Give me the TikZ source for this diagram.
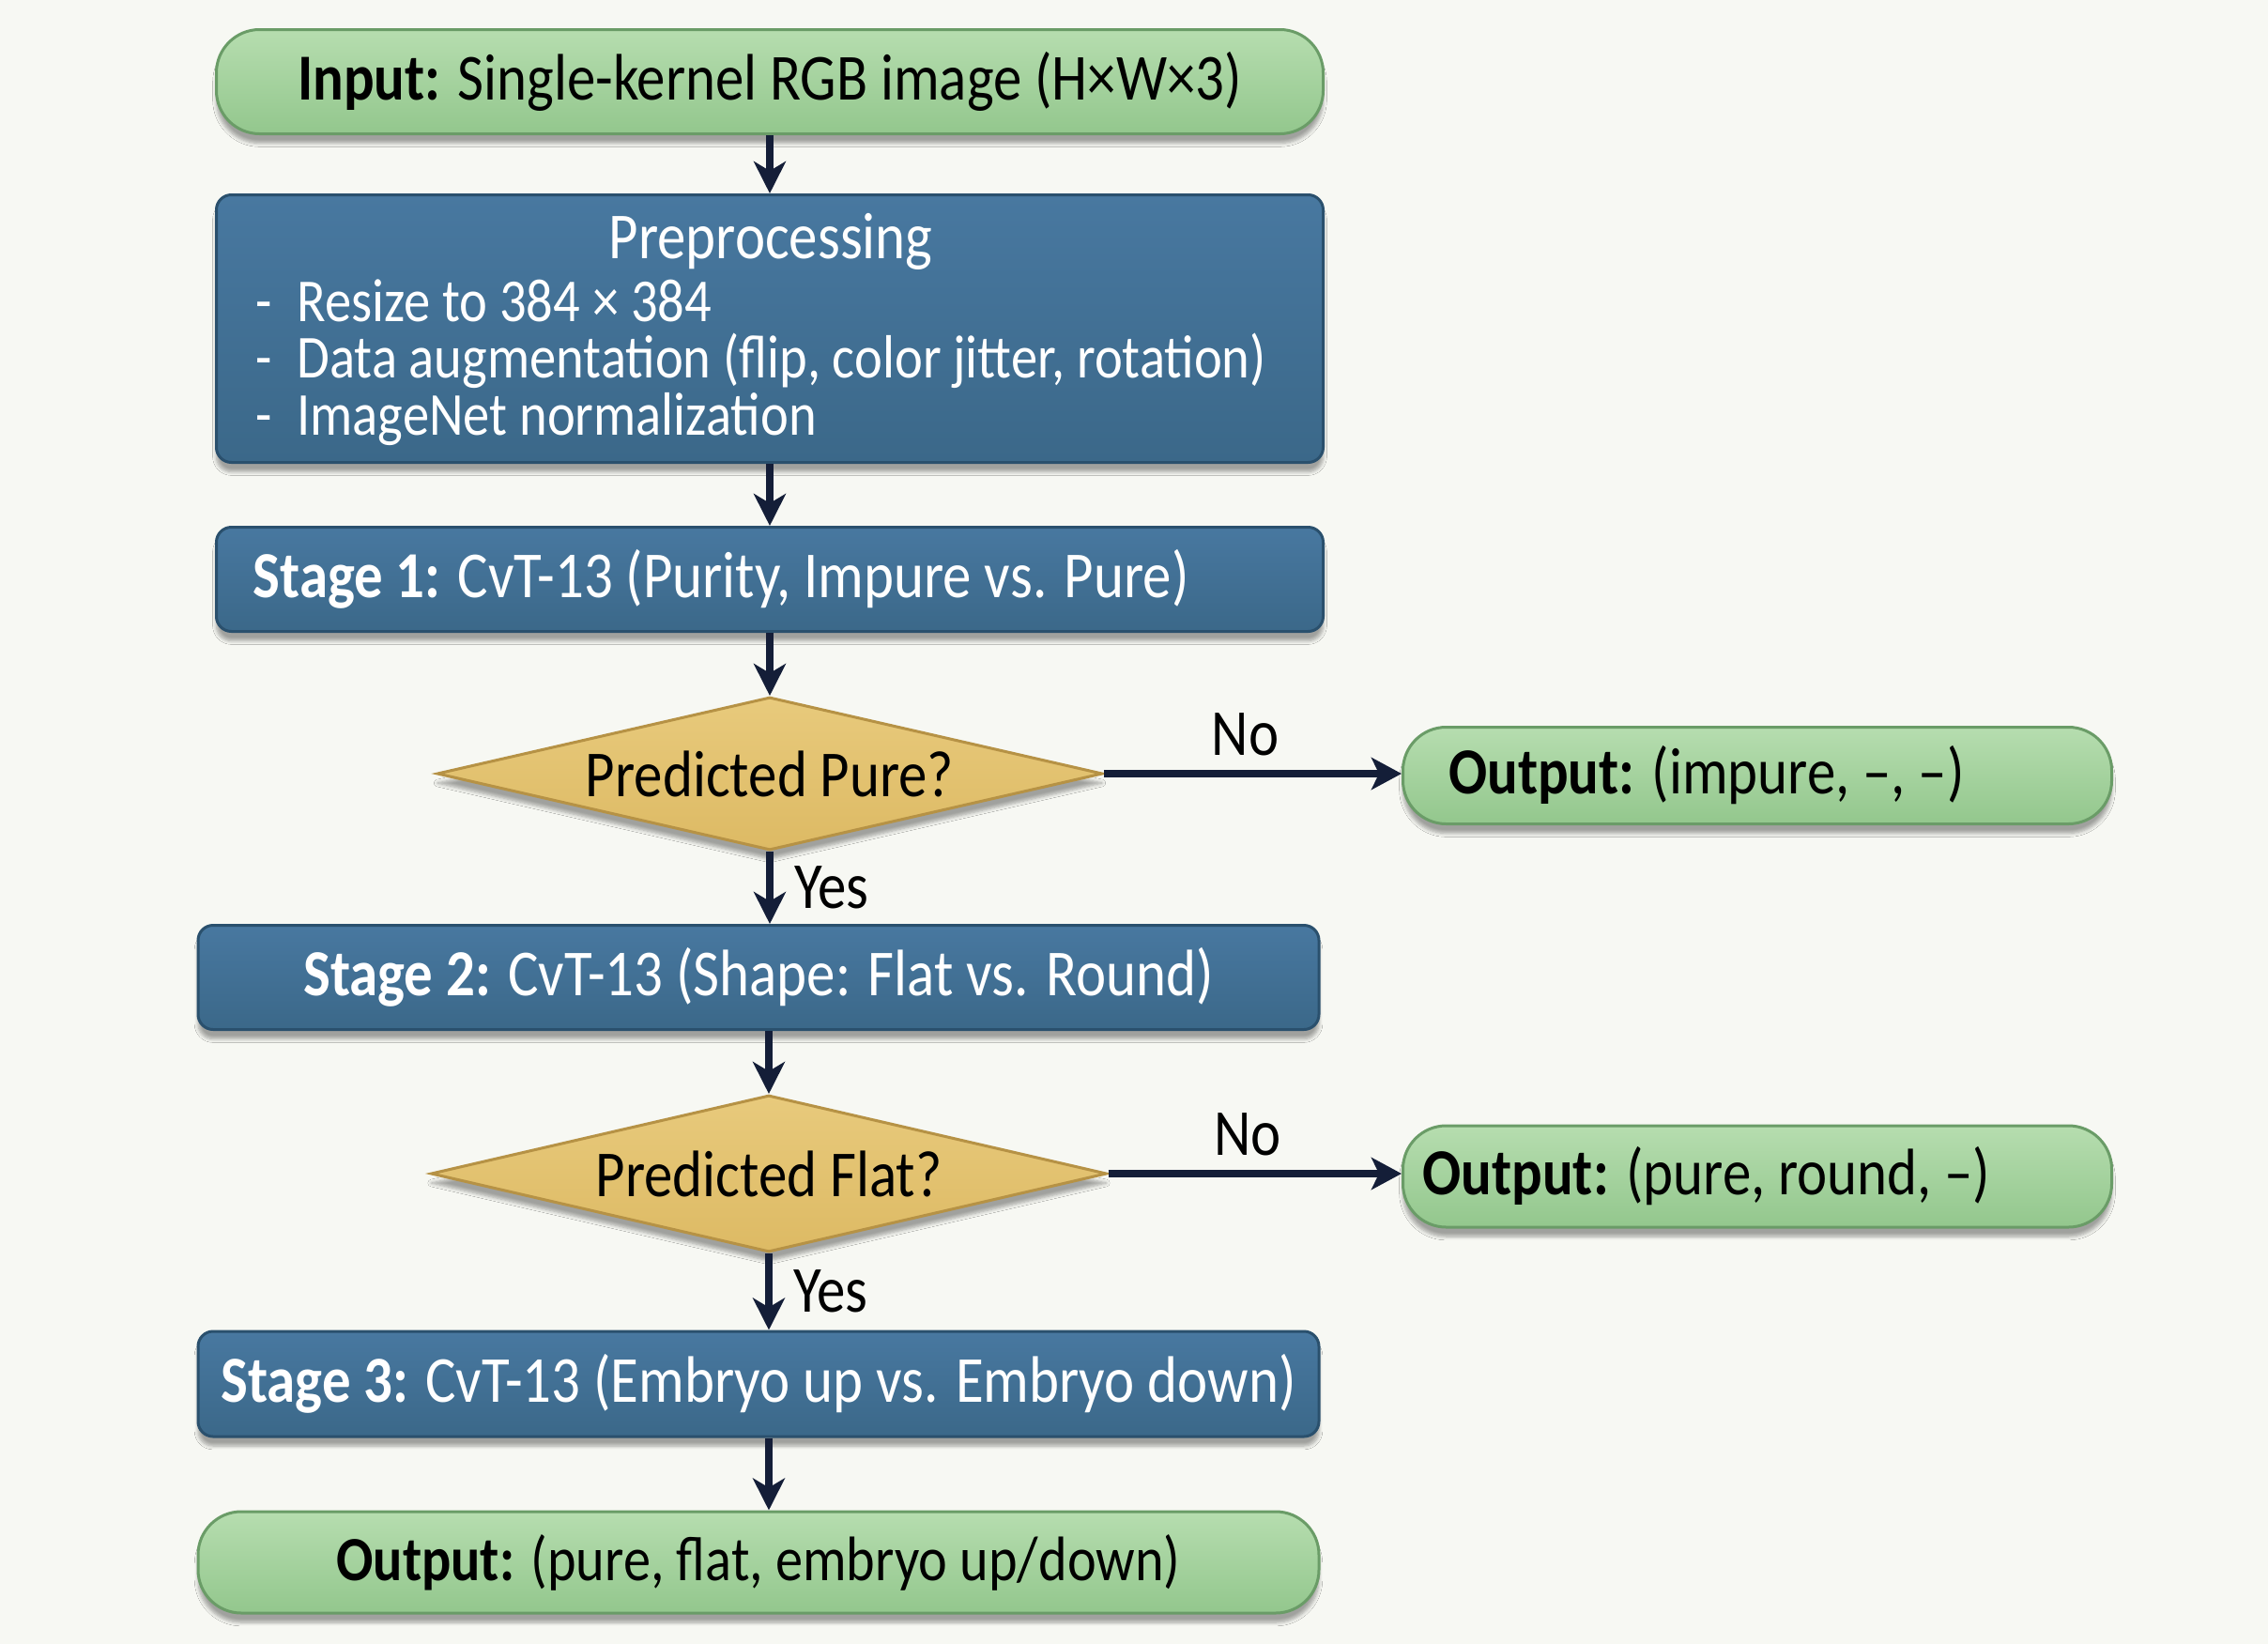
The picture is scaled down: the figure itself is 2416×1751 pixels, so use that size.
\documentclass[tikz,border=0pt]{standalone}
\usepackage{fontspec}
\setmainfont{Carlito}[FakeStretch=0.87]
\usetikzlibrary{shapes.geometric,arrows.meta,shadows.blur}
\definecolor{bgc}{HTML}{F7F8F3}
\definecolor{grtop}{HTML}{B6DDAF}
\definecolor{grbot}{HTML}{93C78D}
\definecolor{grdraw}{HTML}{6A9C67}
\definecolor{bltop}{HTML}{4878A0}
\definecolor{blbot}{HTML}{3B6889}
\definecolor{bldraw}{HTML}{2A506D}
\definecolor{ditop}{HTML}{E8CA7C}
\definecolor{dibot}{HTML}{DDBA64}
\definecolor{didraw}{HTML}{B69245}
\definecolor{arrc}{HTML}{141E38}
\tikzset{
  txt/.style={font=\fontsize{35}{42}\selectfont},
  smalltxt/.style={font=\fontsize{32.5}{40}\selectfont},
  shad/.style={blur shadow={shadow xshift=0pt,shadow yshift=-5pt,shadow blur steps=6,shadow opacity=35}},
  greenbox/.style={txt,shad,draw=grdraw,line width=1.5pt,top color=grtop,bottom color=grbot,rounded corners=23pt,inner sep=0pt,text=black},
  bluebox/.style={txt,shad,draw=bldraw,line width=1.5pt,top color=bltop,bottom color=blbot,rounded corners=8pt,inner sep=0pt,text=white},
  decision/.style={shad,diamond,draw=didraw,line width=1.5pt,top color=ditop,bottom color=dibot,inner sep=0pt},
  dtext/.style={txt,text=black,inner sep=0pt},
  varrow/.style={draw=arrc,line width=4pt,-{Stealth[length=17pt,width=17pt,inset=5pt]}},
  harrow/.style={draw=arrc,line width=4.2pt,-{Stealth[length=16pt,width=17pt,inset=4pt]}},
  lbl/.style={txt,text=black,inner sep=2pt},
  ptext/.style={smalltxt,text=white,inner sep=0pt}
}
\begin{document}
\begin{tikzpicture}[x=0.5pt,y=-0.5pt]
\fill[bgc] (0,0) rectangle (2416,1751);
\useasboundingbox (0,0) rectangle (2416,1751);

\node[greenbox,minimum width=589.5pt,minimum height=55.5pt] (in) at (820,87) {\textbf{Input:} Single-kernel RGB image (H×W×3)};
\node[bluebox,minimum width=589.5pt,minimum height=142.5pt] (pre) at (820,350) {};
\node[txt,text=white,inner sep=0pt] (ptitle) at (821,257) {Preprocessing};
\node[ptext,anchor=west] (p1) at (272,320) {\makebox[22pt][l]{-}Resize to 384 × 384};
\node[ptext,anchor=west] (p2) at (272,384) {\makebox[22pt][l]{-}Data augmentation (flip, color jitter, rotation)};
\node[ptext,anchor=west] (p3) at (272,447) {\makebox[22pt][l]{-}ImageNet normalization};

\node[bluebox,minimum width=589.5pt,minimum height=55.5pt] (s1) at (820,617) {\textbf{Stage 1:} CvT-13 (Purity, Impure vs. Pure)\hspace*{52pt}};
\node[decision,minimum width=354.5pt,minimum height=81.5pt] (d1) at (820,824) {};
\node[dtext] (d1t) at (d1.center) {Predicted Pure?};
\node[greenbox,minimum width=377.5pt,minimum height=51.5pt] (o1) at (1872,826) {\textbf{Output:} (impure, –, –)\hspace*{54pt}};
\node[bluebox,minimum width=597pt,minimum height=55.5pt] (s2) at (808,1041) {\textbf{Stage 2:} CvT-13 (Shape: Flat vs. Round)};
\node[decision,minimum width=360pt,minimum height=83.5pt] (d2) at (819,1250) {};
\node[dtext] (d2t) at (d2.center) {Predicted Flat?};
\node[greenbox,minimum width=377.5pt,minimum height=54pt] (o2) at (1872,1253) {\textbf{Output:} (pure, round, –)\hspace*{54pt}};
\node[bluebox,minimum width=597pt,minimum height=56pt] (s3) at (808,1474) {\textbf{Stage 3:} CvT-13 (Embryo up vs. Embryo down)};
\node[greenbox,minimum width=597pt,minimum height=54pt,font=\fontsize{33.5}{40}\selectfont] (o3) at (808,1664) {\textbf{Output:} (pure, flat, embryo up/down)};

\draw[varrow] (in.south) -- (pre.north);
\draw[varrow] (pre.south) -- (s1.north);
\draw[varrow] (s1.south) -- (d1.north);
\draw[varrow] (d1.south) -- node[lbl,anchor=west,xshift=9pt] (yes1) {Yes} (d1.south |- s2.north);
\draw[varrow] (d2.north |- s2.south) -- (d2.north);
\draw[varrow] (d2.south) -- node[lbl,anchor=west,xshift=9pt] (yes2) {Yes} (d2.south |- s3.north);
\draw[varrow] (d2.south |- s3.south) -- (d2.south |- o3.north);
\draw[harrow] (d1.east) -- node[lbl,anchor=base,yshift=10pt,xshift=-4pt] (no1) {No} (d1.east -| o1.west);
\draw[harrow] (d2.east) -- node[lbl,anchor=base,yshift=10pt,xshift=-4pt] (no2) {No} (d2.east -| o2.west);
\end{tikzpicture}
\end{document}
